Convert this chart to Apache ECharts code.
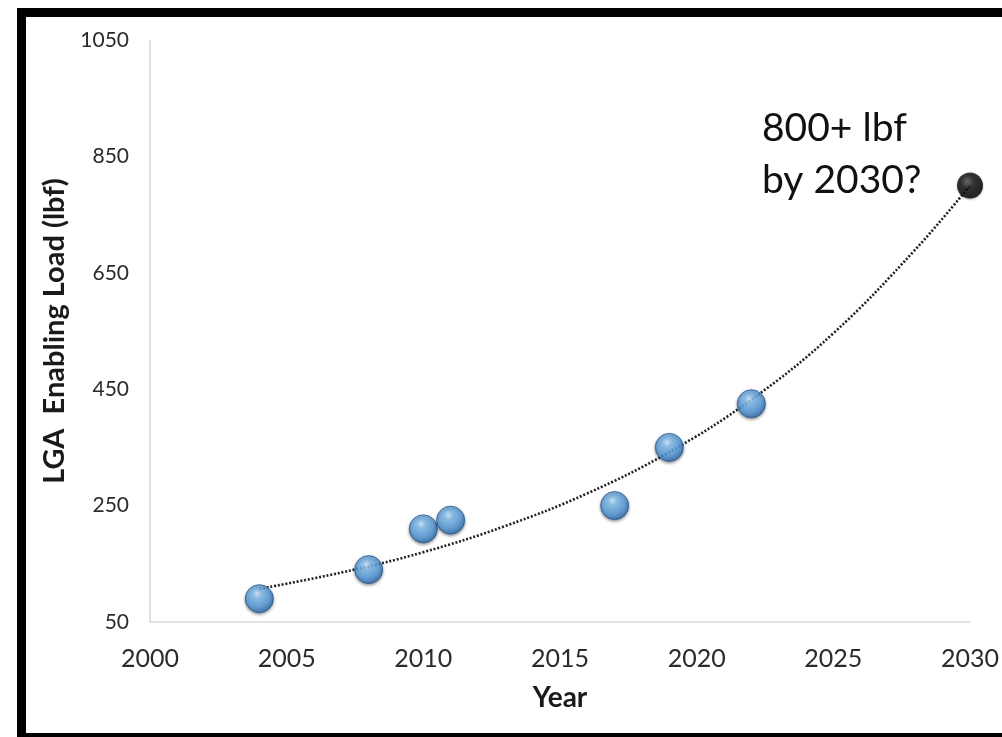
<!DOCTYPE html>
<html>
<head>
<meta charset="utf-8">
<title>LGA Enabling Load</title>
<script src="https://cdn.jsdelivr.net/npm/echarts@6/dist/echarts.min.js"></script>
<style>
  html, body { margin: 0; padding: 0; background: #fff; }
  #chart { width: 1002px; height: 737px; }
</style>
</head>
<body>
<div id="chart"></div>
<script>
// Measured enabling loads by year
var years = [2004, 2008, 2010, 2011, 2017, 2019, 2022];
var loads = [90, 140, 210, 225, 250, 350, 425];

// Projected target
var targetYear = 2030;
var targetLoad = 800;

// Exponential trendline, sampled along the curve
var trendYears = [2004, 2007, 2010, 2013, 2016, 2019, 2022, 2025, 2028, 2030];
var trendLoads = [107, 135, 170, 215, 271, 342, 432, 546, 690, 800];

// Axis ticks
var xTicks = [2000, 2005, 2010, 2015, 2020, 2025, 2030];
var yTicks = [50, 250, 450, 650, 850, 1050];

var FONT = 'Lato, "Open Sans", sans-serif';

function pairs(xs, ys) {
  return xs.map(function (x, i) { return [x, ys[i]]; });
}
function plain(v) { return String(v); }

var chart = echarts.init(document.getElementById('chart'), null, { renderer: 'canvas' });

// Glossy sphere fills for the markers
var sphereBlue = {
  type: 'radial', x: 0.42, y: 0.33, r: 0.68,
  colorStops: [
    { offset: 0, color: '#d6ecff' },
    { offset: 0.22, color: '#82c0f2' },
    { offset: 0.65, color: '#559cde' },
    { offset: 1, color: '#2a66a8' }
  ]
};
var sphereBlack = {
  type: 'radial', x: 0.4, y: 0.35, r: 0.65,
  colorStops: [
    { offset: 0, color: '#555' },
    { offset: 0.4, color: '#111' },
    { offset: 1, color: '#000' }
  ]
};

chart.setOption({
  animation: false,
  backgroundColor: '#fff',
  grid: { left: 150, top: 40, width: 820, height: 582, containLabel: false },
  xAxis: {
    type: 'value',
    min: xTicks[0],
    max: xTicks[xTicks.length - 1],
    interval: 5,
    name: 'Year',
    nameLocation: 'middle',
    nameGap: 62,
    nameTextStyle: { fontFamily: FONT, fontWeight: 'bold', fontSize: 28, color: '#1a1a1a' },
    axisLine: { show: true, lineStyle: { color: '#d9d9d9', width: 1.5 } },
    axisTick: { show: false },
    splitLine: { show: false },
    axisLabel: { fontFamily: FONT, fontSize: 25, color: '#2b2b2b', margin: 24, formatter: plain }
  },
  yAxis: {
    type: 'value',
    min: yTicks[0],
    max: yTicks[yTicks.length - 1],
    interval: 200,
    name: 'LGA  Enabling Load (lbf)',
    nameLocation: 'middle',
    nameGap: 80,
    nameTextStyle: { fontFamily: FONT, fontWeight: 'bold', fontSize: 29, color: '#1a1a1a' },
    axisLine: { show: true, lineStyle: { color: '#d9d9d9', width: 1.5 } },
    axisTick: { show: false },
    splitLine: { show: false },
    axisLabel: { fontFamily: FONT, fontSize: 21, color: '#2b2b2b', margin: 21, formatter: plain }
  },
  series: [
    {
      name: 'Trend',
      type: 'line',
      data: pairs(trendYears, trendLoads),
      smooth: 0.4,
      symbol: 'none',
      z: 3,
      lineStyle: { color: '#222', width: 2.6, type: [2, 1.8] }
    },
    {
      name: 'Measured',
      type: 'scatter',
      data: pairs(years, loads),
      symbolSize: 28,
      z: 4,
      itemStyle: {
        color: sphereBlue,
        borderColor: '#24588f',
        borderWidth: 1,
        shadowBlur: 3,
        shadowColor: 'rgba(0,0,0,0.45)',
        shadowOffsetY: 1.5
      }
    },
    {
      name: 'Target',
      type: 'scatter',
      data: [[targetYear, targetLoad]],
      symbolSize: 26,
      z: 5,
      itemStyle: {
        color: sphereBlack,
        shadowBlur: 2,
        shadowColor: 'rgba(0,0,0,0.4)',
        shadowOffsetY: 1
      }
    }
  ],
  graphic: [
    {
      type: 'rect',
      silent: true,
      shape: { x: 21.5, y: 12.5, width: 1000, height: 725 },
      style: { fill: 'none', stroke: '#000', lineWidth: 9 }
    },
    {
      type: 'text',
      left: 762,
      top: 102,
      style: {
        text: '800+ lbf\nby 2030?',
        fontFamily: FONT,
        fontSize: 39,
        lineHeight: 52,
        fill: '#111'
      }
    }
  ]
});
</script>
</body>
</html>
